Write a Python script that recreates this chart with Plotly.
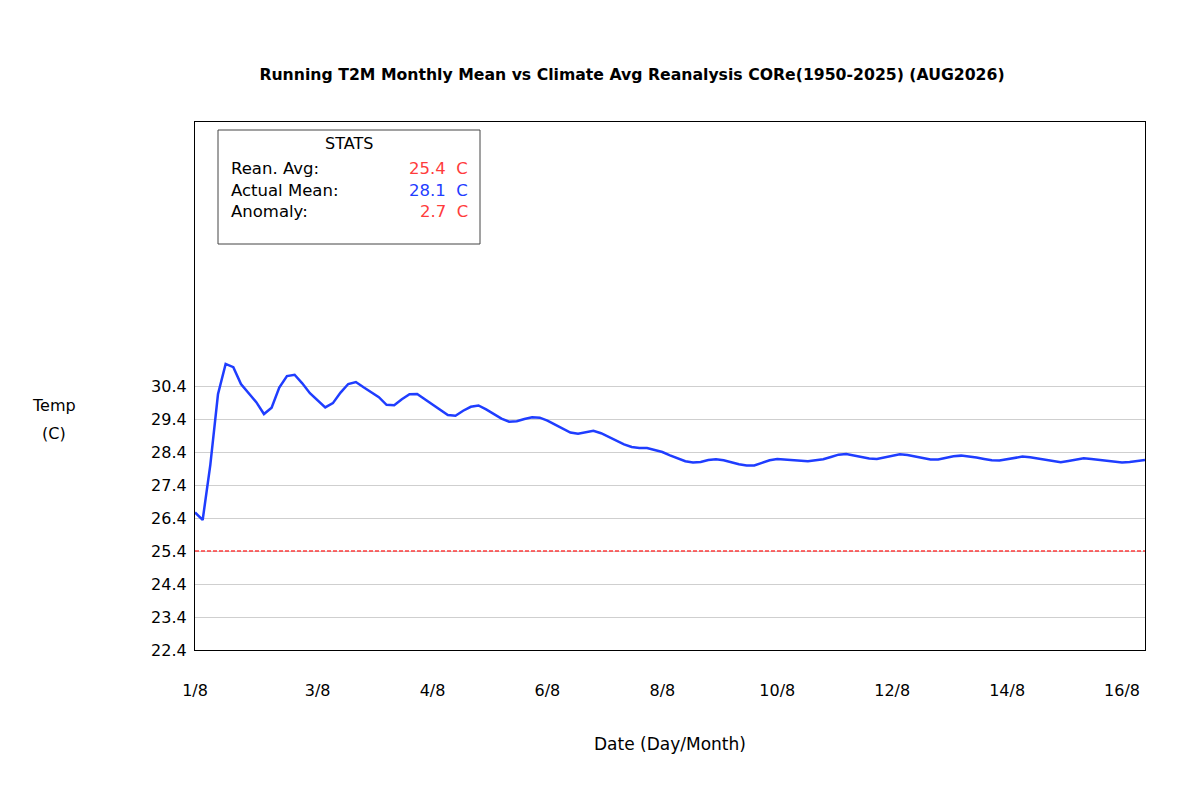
import plotly.graph_objects as go

# ---- data ----
actual_mean = [
    26.57, 26.34, 28.01, 30.15, 31.07, 30.97, 30.46, 30.18, 29.91, 29.55,
    29.74, 30.35, 30.70, 30.74, 30.48, 30.18, 29.95, 29.75, 29.88, 30.20,
    30.46, 30.52, 30.36, 30.22, 30.06, 29.83, 29.82, 30.00, 30.15, 30.16,
    30.00, 29.85, 29.70, 29.52, 29.50, 29.65, 29.77, 29.81, 29.69, 29.55,
    29.41, 29.32, 29.33, 29.40, 29.45, 29.44, 29.35, 29.23, 29.11, 28.99,
    28.95, 29.00, 29.04, 28.97, 28.85, 28.74, 28.63, 28.55, 28.52, 28.52,
    28.47, 28.40, 28.30, 28.21, 28.12, 28.08, 28.10, 28.16, 28.18, 28.15,
    28.08, 28.03, 27.99, 27.99, 28.07, 28.15, 28.19, 28.17, 28.15, 28.13,
    28.12, 28.15, 28.18, 28.25, 28.32, 28.34, 28.30, 28.25, 28.20, 28.19,
    28.24, 28.30, 28.33, 28.31, 28.26, 28.21, 28.17, 28.17, 28.22, 28.27,
    28.29, 28.27, 28.23, 28.19, 28.15, 28.14, 28.18, 28.23, 28.26, 28.24,
    28.20, 28.15, 28.11, 28.09, 28.13, 28.18, 28.21, 28.19, 28.16, 28.13,
    28.09, 28.08, 28.10, 28.13, 28.16,
]
reanalysis_avg = 25.4
stats_labels = ["Rean. Avg:", "Actual Mean:", "Anomaly:"]
stats_values = ["25.4  C", "28.1  C", "2.7  C"]
x_tick_steps = [0, 16, 31, 46, 61, 76, 91, 106, 121]
x_tick_labels = ["1/8", "3/8", "4/8", "6/8", "8/8", "10/8", "12/8", "14/8", "16/8"]
y_ticks = [22.4, 23.4, 24.4, 25.4, 26.4, 27.4, 28.4, 29.4, 30.4]

steps = list(range(len(actual_mean)))

BLUE = "#1f3dff"
RED = "#ff3c3c"
FONT = "DejaVu Sans"

# page has an 8px body margin; figure is sized so that it fits the 1200x800 window
OFF = 8
W, H = 1200 - OFF, 800 - OFF
PL, PR, PT, PB = 195, 1145, 122, 650  # plot area in window pixels
PW, PH = PR - PL, PB - PT


def px(x):
    return (x - PL) / PW


def py(y):
    return (PB - y) / PH


fig = go.Figure()
fig.add_trace(go.Scatter(
    x=steps, y=[reanalysis_avg] * len(steps), mode="lines",
    line=dict(color=RED, width=1.5, dash="4px,2px"), hoverinfo="skip",
))
fig.add_trace(go.Scatter(
    x=steps, y=actual_mean, mode="lines",
    line=dict(color=BLUE, width=2.5),
))

fig.update_layout(
    width=W, height=H,
    margin=dict(l=PL - OFF, r=W - (PR - OFF), t=PT - OFF, b=H - (PB - OFF)),
    paper_bgcolor="white", plot_bgcolor="white",
    showlegend=False,
    font=dict(family=FONT, size=16, color="black"),
    title=dict(
        text="<b>Running T2M Monthly Mean vs Climate Avg Reanalysis CORe(1950-2025) (AUG2026)</b>",
        x=(632 - OFF) / W, xref="container", xanchor="center",
        y=1 - (75 - OFF) / H, yref="container", yanchor="middle",
        font=dict(family=FONT, size=15.7, color="black"),
    ),
    xaxis=dict(
        range=[0, len(steps) - 1],
        tickvals=x_tick_steps, ticktext=x_tick_labels,
        showgrid=False, zeroline=False,
        showline=True, linecolor="black", linewidth=1.2, mirror=True,
        ticks="", ticklabelstandoff=26,
        tickfont=dict(size=16),
    ),
    yaxis=dict(
        range=[22.4, 38.4],
        tickvals=y_ticks, ticktext=[f"{v:.1f}" for v in y_ticks],
        showgrid=True, gridcolor="#cfcfcf", gridwidth=1,
        zeroline=False,
        showline=True, linecolor="black", linewidth=1.2, mirror=True,
        ticks="", ticklabelstandoff=4,
        tickfont=dict(size=16),
    ),
)

# stats box
fig.add_shape(type="rect", xref="paper", yref="paper",
              x0=px(218), x1=px(480), y0=py(244), y1=py(130),
              line=dict(color="#444444", width=1), fillcolor="white", layer="above")
fig.add_annotation(text="STATS", xref="paper", yref="paper",
                   x=px(349), y=py(143),
                   xanchor="center", yanchor="middle", showarrow=False,
                   font=dict(size=16, color="black"))
row_colors = [RED, BLUE, RED]
row_ys = [168, 190, 212]
for lab, val, col, ry in zip(stats_labels, stats_values, row_colors, row_ys):
    fig.add_annotation(text=lab, xref="paper", yref="paper",
                       x=px(229), y=py(ry),
                       xanchor="left", yanchor="middle", showarrow=False,
                       font=dict(size=16.5, color="black"))
    fig.add_annotation(text=val.replace(" ", "&nbsp;"), xref="paper", yref="paper",
                       x=px(470), y=py(ry),
                       xanchor="right", yanchor="middle", showarrow=False,
                       font=dict(size=16.5, color=col))

# axis titles
fig.add_annotation(text="Temp", xref="paper", yref="paper",
                   x=px(54), y=py(405),
                   xanchor="center", yanchor="middle", showarrow=False,
                   font=dict(size=16))
fig.add_annotation(text="(C)", xref="paper", yref="paper",
                   x=px(54), y=py(433),
                   xanchor="center", yanchor="middle", showarrow=False,
                   font=dict(size=16))
fig.add_annotation(text="Date (Day/Month)", xref="paper", yref="paper",
                   x=px(670), y=py(744),
                   xanchor="center", yanchor="middle", showarrow=False,
                   font=dict(size=17))

fig.write_html("out.html")
